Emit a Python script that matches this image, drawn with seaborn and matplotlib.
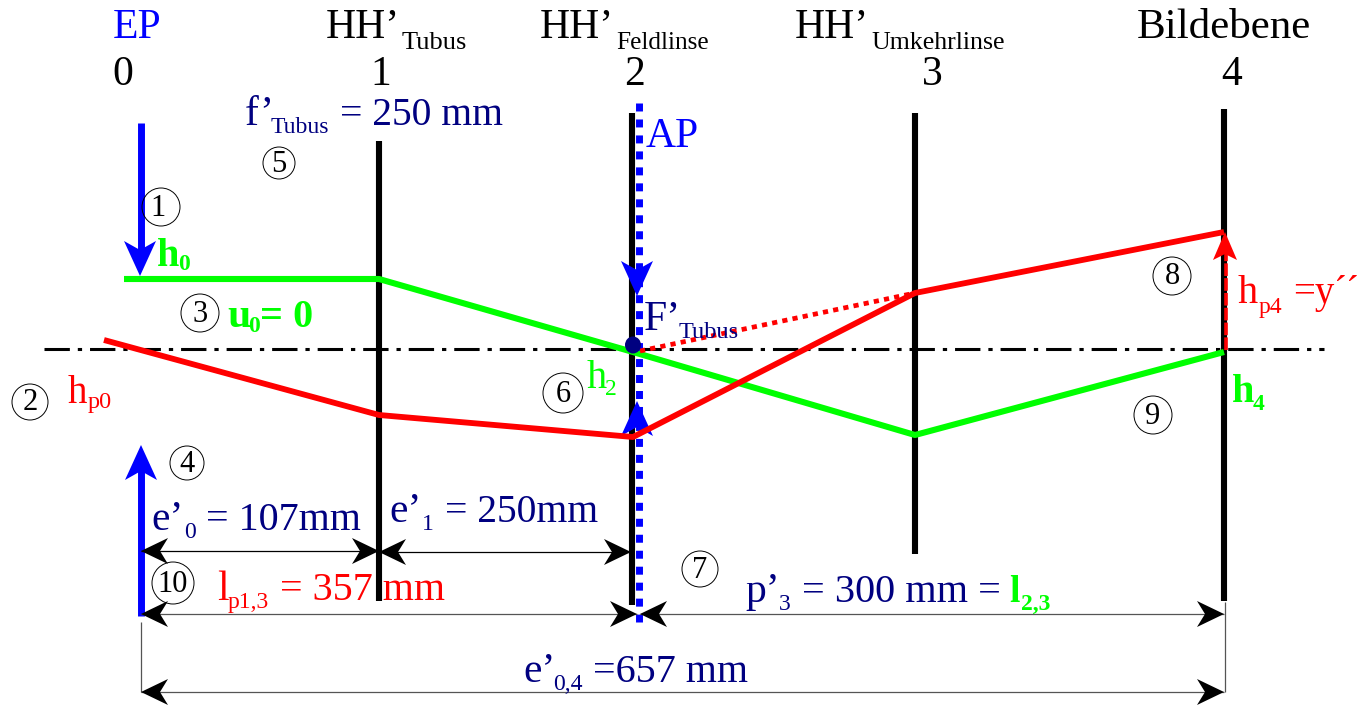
import matplotlib
matplotlib.use("Agg")
import matplotlib.pyplot as plt
from matplotlib.patches import Circle, Ellipse, Polygon
import seaborn as sns

sns.set_theme(style="white")
plt.rcParams['font.family'] = ['Liberation Serif', 'DejaVu Serif']
plt.rcParams['lines.solid_capstyle'] = 'butt'
plt.rcParams['lines.dash_capstyle'] = 'butt'

lens_x = [379, 632, 915, 1224]
lens_top = [141, 113, 113, 109]
lens_bottom = [601, 605, 554, 601]

axis_x = [44, 1324]
axis_y = [349, 349]

green_x = [124, 379, 633, 915, 1224]
green_y = [279, 279, 352, 435, 352]
red_x = [104, 379, 633, 915, 1224]
red_y = [340, 415, 437, 293, 232]
red_dotted_x = [640, 915]
red_dotted_y = [351, 293]

circle_labels = ["1", "2", "3", "4", "5", "6", "7", "8", "9", "10"]
circle_x = [161, 30, 200, 187, 279, 563, 700, 1172, 1153, 173]
circle_y = [207, 402, 313, 463, 163, 393, 569, 276, 415, 583]
circle_r = [19, 18, 19, 17, 16, 20, 18, 19, 19, 21]

BLUE = "#0000ff"
NAVY = "#000080"
RED = "#ff0000"
GREEN = "#00ff00"

fig = plt.figure(figsize=(13.59, 7.05), dpi=100)
ax = fig.add_axes([0, 0, 1, 1])


def line(xs, ys, color, width, **kw):
    sns.lineplot(x=xs, y=ys, color=color, linewidth=width, sort=False,
                 estimator=None, ax=ax, **kw)


def head(x, y, dx, dy, color, length=35, half=16, notch=9, z=5):
    # notched arrow head, tip at x,y, pointing along dx,dy
    px, py = -dy, dx
    bx, by = x - dx * length, y - dy * length
    pts = [(x, y),
           (bx + px * half, by + py * half),
           (bx + dx * notch, by + dy * notch),
           (bx - px * half, by - py * half)]
    ax.add_patch(Polygon(pts, closed=True, fc=color, ec="none", zorder=z))


def label(x, y, s, size=30, color="black", weight="normal"):
    ax.text(x, y, s, fontsize=size, color=color, fontweight=weight,
            ha="left", va="baseline", zorder=8)


def dimension(x0, x1, y, color="black"):
    line([x0, x1], [y, y], color, 0.9, zorder=3)
    head(x0, y, -1, 0, "black", 27, 13, 8)
    head(x1, y, 1, 0, "black", 27, 13, 8)


# lenses and optical axis
for x, top, bottom in zip(lens_x, lens_top, lens_bottom):
    line([x, x], [top, bottom], "black", 4.4, zorder=2)
line(axis_x, axis_y, "black", 2.2, linestyle=(0, (8.3, 2.6, 1.4, 2.6)), zorder=1)

# aperture stop, dotted blue
line([638.5, 638.5], [103, 622], BLUE, 5, linestyle=(0, (1.15, 1.15)), zorder=3)

# EP arrows
line([141, 141], [123, 250], BLUE, 5, zorder=3)
head(140, 276, 0, 1, BLUE)
line([141, 141], [616, 470], BLUE, 5, zorder=3)
head(141, 445, 0, -1, BLUE)
# AP arrows
head(637, 296, 0, 1, BLUE)
head(637, 401, 0, -1, BLUE)

# rays
line(green_x, green_y, GREEN, 4.4, zorder=4)
line(red_x, red_y, RED, 4.2, zorder=6)
line(red_dotted_x, red_dotted_y, RED, 3.4, linestyle=(0, (1.1, 1.1)), zorder=6)
line([1226, 1226], [350, 245], RED, 2.6, linestyle=(0, (3.5, 0.6)), zorder=6)
head(1225, 232, 0, -1, RED, 28, 12, 6, z=7)

ax.add_patch(Ellipse((633, 345), 16, 17, fc=NAVY, ec="none", zorder=7))

# extension lines and dimension arrows
line([141, 141], [622, 692], "#555555", 0.9, zorder=2)
line([1225, 1225], [602, 692], "#555555", 0.9, zorder=2)
dimension(141, 379, 551)
dimension(379, 631, 552)
dimension(141, 637, 614, "#555555")
dimension(640, 1224, 614, "#555555")
dimension(141, 1224, 692, "#555555")

# numbered circles
for s, x, y, r in zip(circle_labels, circle_x, circle_y, circle_r):
    ax.add_patch(Circle((x, y), r, fc="none", ec="black", lw=0.7, zorder=7))
    ax.text(x - (3 if s == "1" else 0), y + 1, s, fontsize=22, color="black",
            ha="center", va="center", zorder=8)

# plane titles
label(113, 38, "EP", color=BLUE)
label(326, 38, "HH’")
label(402, 49, "Tubus", 19)
label(540, 38, "HH’")
label(616, 49, "Feldlinse", 18.2)
label(795, 38, "HH’")
label(871, 49, "Umkehrlinse", 18.6)
label(1137, 38, "Bildebene", 31)
label(112, 85, "0")
label(370, 85, "1")
label(624, 85, "2")
label(922, 85, "3")
label(1221, 85, "4")

# annotations
label(245, 125, "f’", color=NAVY)
label(271, 133, "Tubus", 17, NAVY)
label(340, 125, "= 250 mm", 28.5, NAVY)
label(646, 147, "AP", color=BLUE)
label(157, 266, "h", 29, GREEN, "bold")
label(178, 270, "0", 17, GREEN, "bold")
label(227, 327, "u", 30, GREEN, "bold")
label(248, 332, "0", 17, GREEN, "bold")
label(260, 327, "= 0", 29, GREEN, "bold")
label(68, 403, "h", 28, RED)
label(88, 408, "p0", 17.5, RED)
label(644, 330, "F’", color=NAVY)
label(679, 338, "Tubus", 17.5, NAVY)
label(587, 388, "h", 29, GREEN)
label(605, 395, "2", 17, GREEN)
label(1238, 303, "h", 29, RED)
label(1259, 313, "p4", 17, RED)
label(1293, 303, "=y", 28, RED)
label(1334, 303, "´", 28, RED)
label(1346, 303, "´", 28, RED)
label(1232, 402, "h", 29, GREEN, "bold")
label(1253, 410, "4", 17, GREEN, "bold")
label(151, 530, "e’", color=NAVY)
label(184, 538, "0", 17, NAVY)
label(206, 530, "= 107mm", 28.8, NAVY)
label(389, 522, "e’", color=NAVY)
label(422, 530, "1", 17, NAVY)
label(445, 522, "= 250mm", 28.5, NAVY)
label(217, 600, "l", color=RED)
label(228, 608, "p1,3", 17, RED)
label(280, 600, "= 357 mm", 28.8, RED)
label(745, 602, "p’", color=NAVY)
label(779, 610, "3", 17, NAVY)
label(802, 602, "= 300 mm =", 29, NAVY)
label(1009, 602, "l", 27, GREEN, "bold")
label(1021, 610, "2,3", 17, GREEN, "bold")
label(523, 682, "e’", color=NAVY)
label(553, 690, "0,4", 17, NAVY)
label(593, 682, "=657 mm", 28.8, NAVY)

ax.set_xlim(0, 1359)
ax.set_ylim(705, 0)
ax.axis("off")
fig.savefig("out.png", dpi=100, facecolor="white")
